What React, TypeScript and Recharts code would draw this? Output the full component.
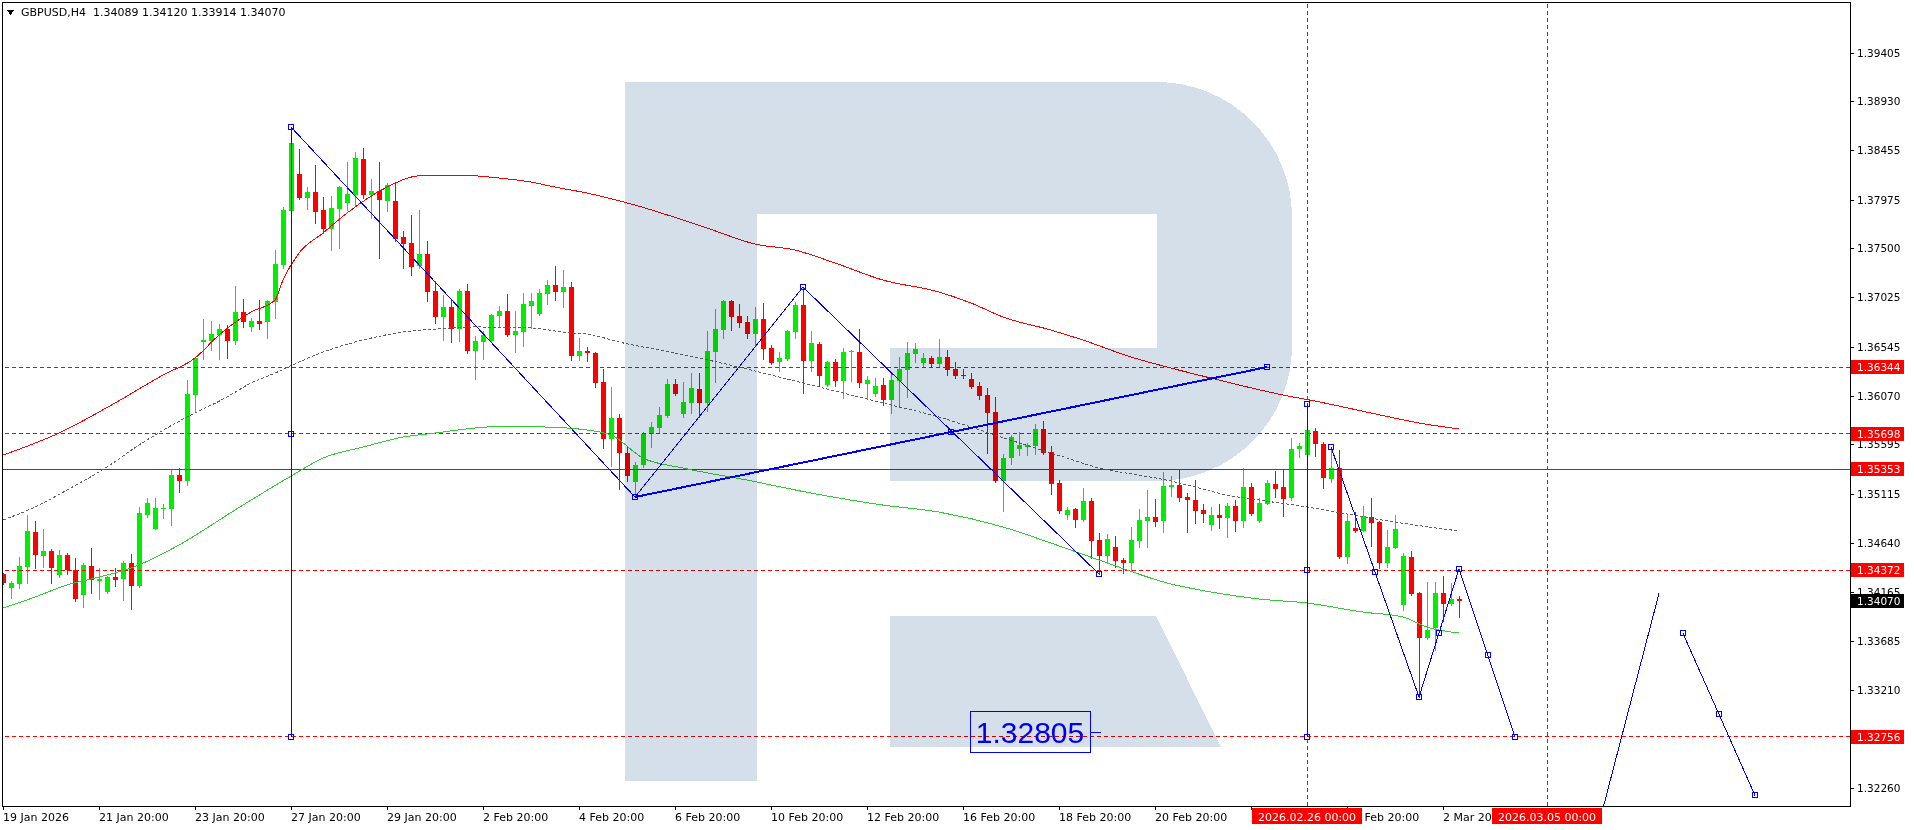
import React from 'react'
import { ComposedChart, Bar, Line, XAxis, YAxis, ReferenceLine, ReferenceDot } from 'recharts'

// GBPUSD H4 candles, bar 0 = 19 Jan 2026 20:00
const opens = [
  1.34336, 1.342, 1.34239, 1.34404, 1.34744, 1.34511, 1.34559, 1.34326, 1.3452, 1.34375,
  1.34131, 1.34413, 1.34268, 1.34161, 1.34307, 1.34287, 1.34443, 1.34219, 1.34909, 1.34773,
  1.34968, 1.34968, 1.35298, 1.3524, 1.36076, 1.36591, 1.366, 1.36659, 1.36717, 1.366,
  1.36882, 1.36737, 1.36795, 1.36785, 1.3698, 1.37339, 1.37864, 1.38224, 1.3799, 1.38049,
  1.37874, 1.37689, 1.37883, 1.37942, 1.3802, 1.3837, 1.3802, 1.38058, 1.37961, 1.37961,
  1.37611, 1.37553, 1.37329, 1.37446, 1.37087, 1.36834, 1.36931, 1.36717, 1.37087, 1.36503,
  1.36591, 1.366, 1.36843, 1.36892, 1.36659, 1.36688, 1.36941, 1.36863, 1.37058, 1.37145,
  1.37077, 1.37125, 1.36454, 1.36503, 1.36484, 1.36202, 1.35648, 1.35852, 1.35512, 1.3523,
  1.35395, 1.35697, 1.35755, 1.35872, 1.36182, 1.35891, 1.35998, 1.36134, 1.35998, 1.36493,
  1.36707, 1.36989, 1.36843, 1.36785, 1.36669, 1.36814, 1.36532, 1.36396, 1.36425, 1.36688,
  1.3695, 1.36406, 1.36571, 1.36173, 1.36396, 1.36211, 1.36493, 1.36493, 1.36182, 1.36085,
  1.36173, 1.36027, 1.36211, 1.36318, 1.36474, 1.36386, 1.36435, 1.36377, 1.36445, 1.36328,
  1.3627, 1.36231, 1.36163, 1.36076, 1.35911, 1.3524, 1.35463, 1.35551, 1.3557, 1.3558,
  1.35745, 1.35522, 1.3522, 1.34909, 1.34968, 1.34861, 1.35045, 1.34666, 1.34511, 1.34598,
  1.34472, 1.34443, 1.34657, 1.34851, 1.3489, 1.34851, 1.35181, 1.35201, 1.35084, 1.35055,
  1.34958, 1.34812, 1.34909, 1.3488, 1.34997, 1.34851, 1.35181, 1.34851, 1.35016, 1.3521,
  1.35181, 1.35074, 1.35551, 1.35493, 1.35726, 1.35599, 1.35259, 1.35366, 1.34501, 1.34783,
  1.34754, 1.3489, 1.34841, 1.34443, 1.34589, 1.34034, 1.34501, 1.34151, 1.33713, 1.33811,
  1.34151, 1.34044, 1.34089,
]
const highs = [
  1.34346, 1.34268, 1.34501, 1.34909, 1.34851, 1.34773, 1.34579, 1.34569, 1.3454, 1.34491,
  1.34443, 1.34589, 1.34394, 1.34317, 1.34394, 1.34462, 1.3453, 1.34987, 1.35074, 1.35074,
  1.35016, 1.35356, 1.35366, 1.36221, 1.36445, 1.36814, 1.36795, 1.36766, 1.36756, 1.37135,
  1.37009, 1.36824, 1.36999, 1.36999, 1.37485, 1.37903, 1.38681, 1.38467, 1.38097, 1.38311,
  1.38, 1.3801, 1.38107, 1.3834, 1.38438, 1.38476, 1.38175, 1.3834, 1.38136, 1.38136,
  1.3767, 1.37825, 1.37874, 1.37572, 1.37184, 1.37048, 1.37009, 1.37106, 1.37155, 1.36649,
  1.36698, 1.36863, 1.36941, 1.37058, 1.36892, 1.37067, 1.37067, 1.37106, 1.37193, 1.37329,
  1.37291, 1.37174, 1.3663, 1.36542, 1.36494, 1.36328, 1.36153, 1.35891, 1.3557, 1.35424,
  1.35716, 1.35813, 1.35959, 1.36231, 1.36231, 1.36202, 1.36289, 1.36289, 1.36698, 1.36911,
  1.36999, 1.36999, 1.3696, 1.36843, 1.36931, 1.3697, 1.36561, 1.36493, 1.36708, 1.3698,
  1.37125, 1.36698, 1.36591, 1.36406, 1.36425, 1.36532, 1.36513, 1.36717, 1.3626, 1.3624,
  1.3624, 1.36289, 1.36445, 1.36591, 1.36581, 1.36484, 1.36454, 1.3662, 1.36513, 1.36396,
  1.36328, 1.36289, 1.36202, 1.36144, 1.36056, 1.35502, 1.35687, 1.35716, 1.35609, 1.35794,
  1.35823, 1.3558, 1.35249, 1.34987, 1.34977, 1.35172, 1.35074, 1.34734, 1.34725, 1.34705,
  1.34491, 1.34793, 1.34968, 1.35152, 1.35065, 1.35327, 1.35288, 1.35346, 1.35123, 1.35249,
  1.35016, 1.34987, 1.35016, 1.35026, 1.35055, 1.35366, 1.3522, 1.35074, 1.35249, 1.35337,
  1.35346, 1.35658, 1.35609, 1.35755, 1.35755, 1.35619, 1.3557, 1.35541, 1.34909, 1.34939,
  1.34997, 1.35074, 1.34851, 1.34764, 1.34909, 1.3454, 1.34559, 1.34161, 1.34258, 1.34258,
  1.34317, 1.34248, 1.3412,
]
const lows = [
  1.34239, 1.34102, 1.342, 1.34248, 1.34394, 1.34404, 1.34248, 1.34307, 1.34336, 1.34073,
  1.34015, 1.34151, 1.34093, 1.34151, 1.34219, 1.34083, 1.33995, 1.34209, 1.3489, 1.34773,
  1.3488, 1.34812, 1.35133, 1.35201, 1.35911, 1.36425, 1.36513, 1.36425, 1.36435, 1.36571,
  1.36737, 1.36698, 1.36717, 1.3663, 1.36824, 1.3731, 1.37854, 1.37981, 1.37883, 1.37748,
  1.3765, 1.37485, 1.37504, 1.37874, 1.37922, 1.3799, 1.37796, 1.37407, 1.37864, 1.37572,
  1.3731, 1.37242, 1.3731, 1.36989, 1.36776, 1.3661, 1.36591, 1.366, 1.36484, 1.36231,
  1.36425, 1.36591, 1.36737, 1.36649, 1.36493, 1.36552, 1.36727, 1.36853, 1.3696, 1.36999,
  1.36931, 1.36415, 1.36415, 1.36406, 1.36153, 1.35561, 1.35385, 1.35162, 1.3524, 1.35084,
  1.35376, 1.3557, 1.35706, 1.35862, 1.36076, 1.35862, 1.35901, 1.35862, 1.3592, 1.36202,
  1.3663, 1.36707, 1.36737, 1.3663, 1.36561, 1.36425, 1.36377, 1.36308, 1.36415, 1.3663,
  1.36095, 1.36308, 1.36163, 1.36163, 1.36163, 1.36047, 1.36211, 1.36153, 1.36037, 1.36066,
  1.35979, 1.35901, 1.35979, 1.36056, 1.36396, 1.36357, 1.36357, 1.36347, 1.3627, 1.3624,
  1.3624, 1.36144, 1.36037, 1.35512, 1.3523, 1.34948, 1.35405, 1.35493, 1.35493, 1.35502,
  1.35502, 1.35113, 1.34929, 1.3487, 1.34793, 1.34851, 1.34491, 1.34336, 1.34462, 1.34404,
  1.34346, 1.34365, 1.34598, 1.34598, 1.34802, 1.34744, 1.35094, 1.35045, 1.34744, 1.34831,
  1.34841, 1.34764, 1.34783, 1.34695, 1.34754, 1.34793, 1.34909, 1.34841, 1.35016, 1.35084,
  1.349, 1.35055, 1.35473, 1.35473, 1.35483, 1.35172, 1.3523, 1.34491, 1.34443, 1.34744,
  1.34754, 1.34608, 1.34394, 1.34404, 1.34589, 1.33986, 1.34131, 1.3314, 1.33703, 1.33597,
  1.33879, 1.34034, 1.33914,
]
const closes = [
  1.34248, 1.34248, 1.34413, 1.34754, 1.3452, 1.34559, 1.34394, 1.3452, 1.34375, 1.34093,
  1.34423, 1.34278, 1.34287, 1.34307, 1.34278, 1.34443, 1.34219, 1.34929, 1.35026, 1.34977,
  1.34977, 1.35298, 1.3524, 1.36085, 1.36435, 1.3661, 1.36669, 1.36717, 1.366, 1.36882,
  1.36785, 1.36795, 1.36766, 1.36989, 1.37349, 1.37874, 1.38525, 1.3799, 1.38049, 1.37854,
  1.37689, 1.37893, 1.38097, 1.38029, 1.38379, 1.3802, 1.38058, 1.37971, 1.38117, 1.37592,
  1.37543, 1.3732, 1.37446, 1.37077, 1.36834, 1.36931, 1.36717, 1.37087, 1.36503, 1.366,
  1.36659, 1.36853, 1.36892, 1.36659, 1.36698, 1.3696, 1.36989, 1.37067, 1.37145, 1.37077,
  1.37125, 1.36454, 1.36503, 1.36484, 1.36192, 1.35648, 1.35852, 1.35512, 1.35288, 1.35395,
  1.35697, 1.35764, 1.35882, 1.36182, 1.36085, 1.36008, 1.36144, 1.35998, 1.36503, 1.36717,
  1.36989, 1.36834, 1.36776, 1.36669, 1.36814, 1.36522, 1.36386, 1.36435, 1.36698, 1.3695,
  1.36406, 1.36581, 1.3626, 1.36396, 1.36211, 1.36493, 1.36503, 1.36192, 1.36221, 1.36163,
  1.36027, 1.36221, 1.36328, 1.36484, 1.36522, 1.36435, 1.36377, 1.36445, 1.36318, 1.3626,
  1.3626, 1.36153, 1.36066, 1.35901, 1.3524, 1.35463, 1.35667, 1.3559, 1.3559, 1.35745,
  1.35512, 1.3521, 1.34948, 1.34958, 1.34861, 1.35045, 1.34657, 1.34511, 1.34676, 1.34462,
  1.34443, 1.34666, 1.34861, 1.3489, 1.34841, 1.35191, 1.35201, 1.35074, 1.35055, 1.34948,
  1.34919, 1.34909, 1.3488, 1.34997, 1.34851, 1.35181, 1.34919, 1.35026, 1.3522, 1.35162,
  1.35065, 1.35551, 1.3558, 1.35735, 1.35599, 1.35269, 1.35366, 1.34501, 1.34851, 1.34754,
  1.349, 1.34831, 1.34443, 1.34598, 1.34773, 1.34511, 1.34141, 1.33713, 1.33791, 1.34151,
  1.34044, 1.34093, 1.3407,
]

// moving averages, [bar, price]
const maRed: [number, number][] = [
  [0, 1.35492], [7, 1.35706], [14, 1.35998], [20, 1.3627], [24, 1.36435], [27, 1.36659],
  [31, 1.36882], [34, 1.36999], [35, 1.37193], [37, 1.37456], [40, 1.3765], [43, 1.37845],
  [48, 1.38097], [51, 1.38194], [53, 1.38214], [57, 1.38214], [62, 1.38185], [66, 1.38146],
  [69, 1.38097], [73, 1.38039], [79, 1.37922], [88, 1.37699], [94, 1.37543], [99, 1.37485],
  [104, 1.37359], [110, 1.37193], [117, 1.37077], [121, 1.3697], [125, 1.36834], [131, 1.36707],
  [135, 1.3661], [141, 1.36445], [146, 1.36338], [151, 1.3624], [160, 1.36076], [164, 1.36017],
  [171, 1.35901], [177, 1.35804], [182, 1.35745],
]
const maGray: [number, number][] = [
  [0, 1.34861], [4, 1.34987], [8, 1.35152], [13, 1.35376], [17, 1.3559], [23, 1.35862],
  [28, 1.36056], [31, 1.36192], [34, 1.36289], [37, 1.36396], [40, 1.36493], [45, 1.3661],
  [50, 1.36688], [54, 1.36717], [59, 1.36737], [66, 1.36727], [71, 1.36678], [73, 1.36669],
  [77, 1.36591], [82, 1.36513], [87, 1.36435], [92, 1.36347], [97, 1.3625], [102, 1.36153],
  [110, 1.35998], [117, 1.35862], [121, 1.35764], [124, 1.35687], [129, 1.35561], [133, 1.35463],
  [137, 1.35366], [142, 1.35298], [146, 1.3524], [149, 1.35181], [153, 1.35104], [157, 1.35055],
  [163, 1.34987], [168, 1.34919], [174, 1.34841], [182, 1.34754],
]
const maGreen: [number, number][] = [
  [0, 1.34005], [4, 1.34112], [8, 1.34229], [12, 1.34306], [16, 1.34394], [22, 1.34618],
  [29, 1.34958], [36, 1.35288], [40, 1.35463], [45, 1.3557], [50, 1.35667], [54, 1.35706],
  [59, 1.35755], [63, 1.35774], [68, 1.35764], [72, 1.35745], [76, 1.35687], [80, 1.35463],
  [85, 1.35366], [93, 1.35249], [101, 1.35123], [110, 1.35006], [117, 1.34938], [125, 1.34793],
  [131, 1.34637], [137, 1.34472], [146, 1.34239], [151, 1.34161], [157, 1.34093], [163, 1.34054],
  [170, 1.33966], [175, 1.33918], [178, 1.3382], [182, 1.33762],
]

// drawn objects
const waveMain: [number, number][] = [[36, 1.38681], [79, 1.35084], [100, 1.37125], [137, 1.34336]]
const trendUp: [number, number][] = [[79, 1.35084], [158, 1.36347]]
const stemLeft: [number, number][] = [[36, 1.38681], [36, 1.32756]]
const stemRight: [number, number][] = [[163, 1.35988], [163, 1.32756]]
const waveRecent: [number, number][] = [[166, 1.3557], [177, 1.3314], [182, 1.34385], [189, 1.32756]]
const forecastUp: [number, number][] = [[199, 1.3176], [207, 1.34148]]
const forecastDown: [number, number][] = [[210, 1.33759], [214.5, 1.32972], [219, 1.32184]]
const anchors: [number, number][] = [
  [36, 1.38681], [36, 1.35698], [36, 1.32756], [79, 1.35084], [100, 1.37125], [137, 1.34336],
  [118.5, 1.35716], [158, 1.36347], [163, 1.35988], [163, 1.34372], [163, 1.32756],
  [166, 1.3557], [171.5, 1.34356], [177, 1.3314], [179.5, 1.33762], [182, 1.34385],
  [185.6, 1.3355], [189, 1.32756], [210, 1.33759], [214.5, 1.32972], [219, 1.32184],
]
const noteAt: [number, number] = [128.4, 1.32805]

// levels and axes
const levelValues = [1.36344, 1.35698, 1.35353, 1.34372, 1.32756]
const levelDashed = [true, true, false, true, true]
const lastPrice = 1.3407
const priceTicks = [
  1.39405, 1.3893, 1.38455, 1.37975, 1.375, 1.37025, 1.36545, 1.3607, 1.35595, 1.35115,
  1.3464, 1.34165, 1.33685, 1.3321, 1.3226,
]
const timeTicks = [0, 12, 24, 36, 48, 60, 72, 84, 96, 108, 120, 132, 144, 156, 168, 180]
const timeLabels = [
  '19 Jan 2026', '21 Jan 20:00', '23 Jan 20:00', '27 Jan 20:00', '29 Jan 20:00', '2 Feb 20:00',
  '4 Feb 20:00', '6 Feb 20:00', '10 Feb 20:00', '12 Feb 20:00', '16 Feb 20:00', '18 Feb 20:00',
  '20 Feb 20:00', '24 Feb 20:00', '26 Feb 20:00', '2 Mar 20:00',
]
const markBars = [163, 193]
const markLabels = ['2026.02.26 00:00', '2026.03.05 00:00']
const symbol = 'GBPUSD,H4'

const W = 1914
const H = 830
const BULL = '#00ee00'
const BEAR = '#ff0000'
const BLUE = '#0000ff'
const FONT = 'DejaVu Sans'

const candles = opens.map((o, i) => ({
  x: i,
  range: [lows[i], highs[i]],
  o,
  h: highs[i],
  l: lows[i],
  c: closes[i],
}))

const pts = (arr: [number, number][]) => arr.map(([x, y]) => ({ x, y }))

function Candle(props: any) {
  const { x, y, width, height, payload } = props
  if (x == null || payload == null) return null
  const top = Math.min(y, y + height)
  const h = Math.abs(height)
  const span = payload.h - payload.l
  const k = span > 0 ? h / span : 0
  const cx = Math.round(x + width / 2)
  const bTop = Math.round(top + (payload.h - Math.max(payload.o, payload.c)) * k)
  const bBot = Math.round(top + (payload.h - Math.min(payload.o, payload.c)) * k)
  const col = payload.c >= payload.o ? BULL : BEAR
  return (
    <g>
      <line x1={cx + 0.5} x2={cx + 0.5} y1={Math.round(top)} y2={Math.round(top + h) + 1} stroke={col} />
      <rect x={cx - 2} y={bTop} width={5} height={Math.max(1, bBot - bTop)} fill={col} />
    </g>
  )
}

function Square(props: any) {
  const { cx, cy, index } = props
  if (cx == null || cy == null) return <g key={index} />
  const px = Math.round(cx)
  const py = Math.round(cy)
  return <rect key={index} x={px - 2.5} y={py - 2.5} width={5} height={5} fill="none" stroke={BLUE} />
}

function PriceTick(props: any) {
  const { x, y, payload } = props
  const v: number = payload.value
  const label = v.toFixed(5)
  const isLast = v === lastPrice
  const isLevel = levelValues.indexOf(v) >= 0
  const ry = Math.round(y)
  if (isLast || isLevel) {
    return (
      <g>
        <rect x={x - 6} y={ry - 7} width={53} height={14} fill={isLast ? '#000000' : '#ff0000'} />
        <text x={x} y={ry} dy="0.36em" fill="#ffffff" fontSize={10.5} fontFamily={FONT}>
          {label}
        </text>
      </g>
    )
  }
  return (
    <g>
      <line x1={x - 7} x2={x - 3} y1={ry + 0.5} y2={ry + 0.5} stroke="#000000" />
      <text x={x} y={ry} dy="0.36em" fill="#000000" fontSize={10.5} fontFamily={FONT}>
        {label}
      </text>
    </g>
  )
}

function TimeTick(props: any) {
  const { x, y, payload } = props
  const v: number = payload.value
  const px = Math.round(x)
  const mi = markBars.indexOf(v)
  if (mi >= 0) {
    return (
      <g>
        <rect x={px - 55} y={y - 4} width={110} height={16} fill="#ff0000" />
        <text x={px} y={y + 9} textAnchor="middle" fill="#ffffff" fontSize={11} fontFamily={FONT}>
          {markLabels[mi]}
        </text>
      </g>
    )
  }
  const ti = timeTicks.indexOf(v)
  return (
    <g>
      <line x1={px + 0.5} x2={px + 0.5} y1={y - 6} y2={y - 2} stroke="#000000" />
      <text x={px} y={y + 9} textAnchor="start" fill="#000000" fontSize={11} fontFamily={FONT}>
        {timeLabels[ti]}
      </text>
    </g>
  )
}

function PriceNote(props: any) {
  const { cx, cy } = props
  if (cx == null) return null
  const px = Math.round(cx)
  const py = Math.round(cy)
  return (
    <g>
      <rect x={px - 59.5} y={py - 20.5} width={120} height={41} fill="none" stroke={BLUE} />
      <text x={px} y={py} dy="0.36em" textAnchor="middle" fill={BLUE} fontSize={30} fontFamily="Liberation Sans">
        {noteAt[1].toFixed(5)}
      </text>
      <line x1={px + 61} x2={px + 71} y1={py + 0.5} y2={py + 0.5} stroke={BLUE} />
    </g>
  )
}

function blueLine(data: [number, number][], width = 1) {
  return (
    <Line
      data={pts(data)}
      dataKey="y"
      type="linear"
      stroke={BLUE}
      strokeWidth={width}
      dot={false}
      activeDot={false}
      isAnimationActive={false}
      legendType="none"
    />
  )
}

export default function App() {
  const last = candles[candles.length - 1]
  return (
    <div
      style={{
        position: 'absolute',
        left: 0,
        top: 0,
        width: W,
        height: H,
        background: '#ffffff',
        shapeRendering: 'crispEdges',
        fontFamily: FONT,
      }}
    >
      <ComposedChart width={W} height={H} data={candles} margin={{ top: 2, right: 0, bottom: 0, left: 2 }}>
        <XAxis
          dataKey="x"
          type="number"
          domain={[-0.125, 230.875]}
          allowDataOverflow
          ticks={[...timeTicks, ...markBars]}
          interval={0}
          height={24}
          axisLine={false}
          tickLine={false}
          tickSize={4}
          tickMargin={2}
          tick={<TimeTick />}
        />
        <YAxis
          orientation="right"
          type="number"
          domain={[1.32081, 1.39896]}
          allowDataOverflow
          ticks={[...priceTicks, ...levelValues, lastPrice]}
          interval={0}
          width={64}
          axisLine={false}
          tickLine={false}
          tickSize={4}
          tickMargin={3}
          tick={<PriceTick />}
        />
        {levelValues.map((v, i) => (
          <ReferenceLine
            key={v}
            y={v}
            stroke="#ff0000"
            strokeDasharray={levelDashed[i] ? '4 3' : undefined}
          />
        ))}
        {markBars.map((b) => (
          <ReferenceLine key={b} x={b} stroke="#ff0000" strokeDasharray="4 3" />
        ))}
        <Bar dataKey="range" barSize={5} shape={<Candle />} isAnimationActive={false} legendType="none" />
        <Line data={pts(maGreen)} dataKey="y" type="monotone" stroke="#32cd32" dot={false} activeDot={false} isAnimationActive={false} />
        <Line data={pts(maGray)} dataKey="y" type="monotone" stroke="#606060" strokeDasharray="3 2" dot={false} activeDot={false} isAnimationActive={false} />
        <Line data={pts(maRed)} dataKey="y" type="monotone" stroke="#ff0000" dot={false} activeDot={false} isAnimationActive={false} />
        {blueLine(stemLeft)}
        {blueLine(stemRight)}
        {blueLine(waveMain)}
        {blueLine(trendUp, 2)}
        {blueLine(waveRecent)}
        {blueLine(forecastUp)}
        {blueLine(forecastDown)}
        <Line
          data={pts(anchors)}
          dataKey="y"
          stroke="none"
          dot={(p: any) => <Square key={p.index} {...p} />}
          activeDot={false}
          isAnimationActive={false}
        />
        <ReferenceDot x={noteAt[0]} y={noteAt[1]} r={0} shape={(p: any) => <PriceNote {...p} />} />
      </ComposedChart>

      {/* broker watermark, multiplied over the plot like the terminal does */}
      <svg
        width={W}
        height={H}
        style={{ position: 'absolute', left: 0, top: 0, mixBlendMode: 'multiply', pointerEvents: 'none' }}
      >
        <g fill="#d5dfea">
          <rect x={625} y={82} width={132} height={699} />
          <rect x={625} y={82} width={532} height={132} />
          <path d="M1157,82 A135,135 0 0 1 1292,217 L1292,346 A135,135 0 0 1 1157,481 Z" />
          <rect x={890} y={348} width={267} height={133} />
          <polygon points="890,616 1156,616 1221,747 890,747" />
        </g>
        <rect x={2.5} y={2.5} width={1848} height={804} fill="none" stroke="#000000" />
      </svg>

      <div
        style={{
          position: 'absolute',
          left: 7,
          top: 6,
          fontSize: 11,
          lineHeight: '13px',
          color: '#000',
          whiteSpace: 'pre',
          display: 'flex',
          alignItems: 'center',
        }}
      >
        <svg width={8} height={6} style={{ marginRight: 6 }}>
          <polygon points="0,0 7,0 3.5,5" fill="#000" />
        </svg>
        {`${symbol}  ${[last.o, last.h, last.l, last.c].map((v) => v.toFixed(5)).join(' ')}`}
      </div>
    </div>
  )
}
